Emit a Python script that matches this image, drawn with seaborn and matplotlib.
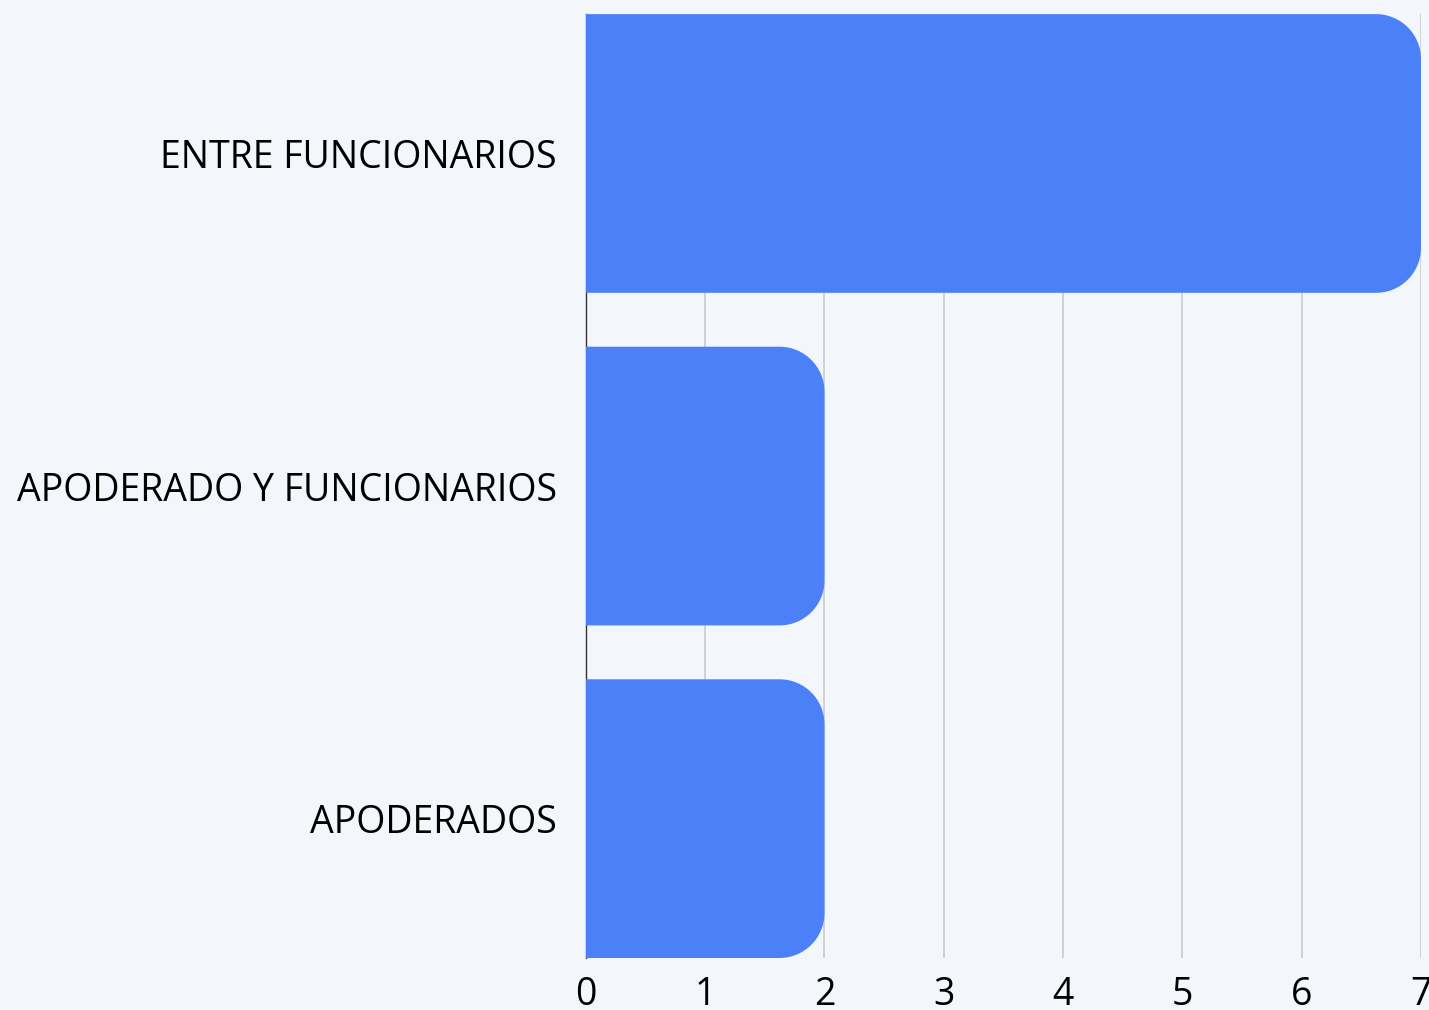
import numpy as np
import matplotlib
matplotlib.use("Agg")
import matplotlib.pyplot as plt
from matplotlib.path import Path
from matplotlib.patches import PathPatch
import seaborn as sns

# data
categories = ["ENTRE FUNCIONARIOS", "APODERADO Y FUNCIONARIOS", "APODERADOS"]
values = [7, 2, 2]

bg = "#F3F6FB"
bar_color = "#4B80F8"

sns.set_theme(style="white")
plt.rcParams["font.family"] = ["Open Sans", "DejaVu Sans"]

fig, ax = plt.subplots(figsize=(14.29, 10.10), dpi=100)
fig.patch.set_facecolor(bg)
ax.set_facecolor(bg)
fig.subplots_adjust(left=0.41, right=0.9944, top=0.986, bottom=0.0515)

bar_h = 0.838
sns.barplot(x=values, y=categories, orient="h", width=bar_h, color=bar_color,
            saturation=1, ax=ax, zorder=3)

ax.set_xlim(0, 7)
ax.set_ylim(2 + bar_h / 2, -bar_h / 2)

# rounded right corners (radius ~45 px in both directions)
fig.canvas.draw()
px_x = ax.transData.transform((1, 0))[0] - ax.transData.transform((0, 0))[0]
px_y = abs(ax.transData.transform((0, 1))[1] - ax.transData.transform((0, 0))[1])
rx = 45 / px_x
ry = 45 / px_y
k = 0.5523
for p in list(ax.patches):
    x0, y0 = p.get_x(), p.get_y()
    w, h = p.get_width(), p.get_height()
    x1, y1 = x0 + w, y0 + h
    verts = [
        (x0, y0),
        (x1 - rx, y0),
        (x1 - rx + k * rx, y0), (x1, y0 + ry - k * ry), (x1, y0 + ry),
        (x1, y1 - ry),
        (x1, y1 - ry + k * ry), (x1 - rx + k * rx, y1), (x1 - rx, y1),
        (x0, y1),
        (x0, y0),
    ]
    codes = [Path.MOVETO, Path.LINETO,
             Path.CURVE4, Path.CURVE4, Path.CURVE4,
             Path.LINETO,
             Path.CURVE4, Path.CURVE4, Path.CURVE4,
             Path.LINETO, Path.CLOSEPOLY]
    p.remove()
    ax.add_patch(PathPatch(Path(verts, codes), facecolor=bar_color,
                           edgecolor="none", zorder=3))

ax.set_xticks(range(0, 8))
ax.grid(axis="x", color="#C8CCD3", linewidth=1.2, zorder=0)
ax.grid(axis="y", visible=False)
for s in ["top", "right", "bottom"]:
    ax.spines[s].set_visible(False)
ax.spines["left"].set_color("#333333")
ax.spines["left"].set_linewidth(1)
ax.spines["left"].set_zorder(1)

ax.tick_params(axis="x", length=0, pad=13, labelsize=27, labelcolor="#000000")
ax.tick_params(axis="y", length=0, pad=21, labelsize=27, labelcolor="#000000")
ax.set_xlabel("")
ax.set_ylabel("")

fig.savefig("out.png", dpi=100, facecolor=bg)
